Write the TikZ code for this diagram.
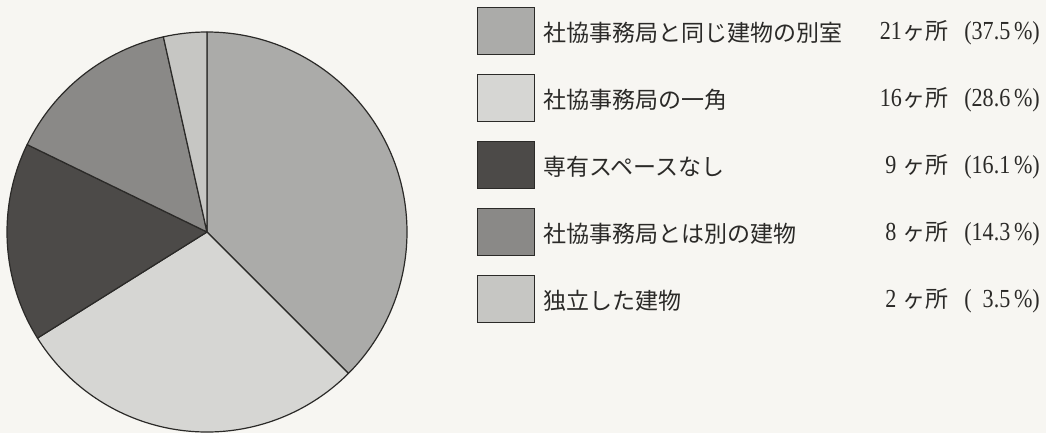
\documentclass[tikz,border=0pt]{standalone}
\usepackage{fontspec}
\setmainfont{Liberation Serif}
\newfontfamily\jp{Noto Sans CJK JP}
\definecolor{paper}{HTML}{F7F6F2}
\definecolor{ink}{HTML}{2B2A28}
\definecolor{cA}{HTML}{ABABA9}
\definecolor{cB}{HTML}{D6D6D3}
\definecolor{cC}{HTML}{4C4A48}
\definecolor{cD}{HTML}{8A8987}
\definecolor{cE}{HTML}{C6C6C3}
\tikzset{
  slice/.style={draw=ink, line width=1.2pt, line join=round},
  keybox/.style={draw=ink, line width=1.6pt, minimum width=57pt, minimum height=47pt, inner sep=0pt},
  label/.style={anchor=west, inner sep=0pt, text=ink, font=\jp\fontsize{23}{27}\selectfont},
  count/.style={anchor=east, inner sep=0pt, text=ink, font=\fontsize{26}{28}\selectfont},
}
\newcommand{\cnt}[2]{\makebox[23pt][c]{\scalebox{0.85}[1]{#1}}{\jp\fontsize{23}{27}\selectfont ヶ所}\hspace{16pt}\scalebox{0.85}[1]{(#2\,\%)}}
\begin{document}
\begin{tikzpicture}[x=1pt,y=-1pt]
\useasboundingbox (0,0) rectangle (1046,433);
\fill[paper] (0,0) rectangle (1046,433);
\coordinate (c) at (207,232);
\begin{scope}[shift={(207,232)}, x=1pt, y=1pt]
  \filldraw[slice, fill=cA] (0,0) -- (90:200) arc[start angle=90, end angle=-45, radius=200] -- cycle;
  \filldraw[slice, fill=cB] (0,0) -- (-45:200) arc[start angle=-45, end angle=-147.96, radius=200] -- cycle;
  \filldraw[slice, fill=cC] (0,0) -- (-147.96:200) arc[start angle=-147.96, end angle=-205.92, radius=200] -- cycle;
  \filldraw[slice, fill=cD] (0,0) -- (-205.92:200) arc[start angle=-205.92, end angle=-257.4, radius=200] -- cycle;
  \filldraw[slice, fill=cE] (0,0) -- (-257.4:200) arc[start angle=-257.4, end angle=-270, radius=200] -- cycle;
\end{scope}
\node[keybox, fill=cA] (k1) at (506,31) {};
\node[keybox, fill=cB] (k2) at (506,98) {};
\node[keybox, fill=cC] (k3) at (506,165) {};
\node[keybox, fill=cD] (k4) at (506,232) {};
\node[keybox, fill=cE] (k5) at (506,299) {};
\node[label] (l1) at (543,33) {社協事務局と同じ建物の別室};
\node[label] (l2) at (543,100) {社協事務局の一角};
\node[label] (l3) at (543,167) {専有スペースなし};
\node[label] (l4) at (543,234) {社協事務局とは別の建物};
\node[label] (l5) at (543,301) {独立した建物};
\node[count] (n1) at (1040,33) {\cnt{21}{37.5}};
\node[count] (n2) at (1040,100) {\cnt{16}{28.6}};
\node[count] (n3) at (1040,167) {\cnt{9}{16.1}};
\node[count] (n4) at (1040,234) {\cnt{8}{14.3}};
\node[count] (n5) at (1040,301) {\cnt{2}{\hphantom{1}3.5}};
\end{tikzpicture}
\end{document}
